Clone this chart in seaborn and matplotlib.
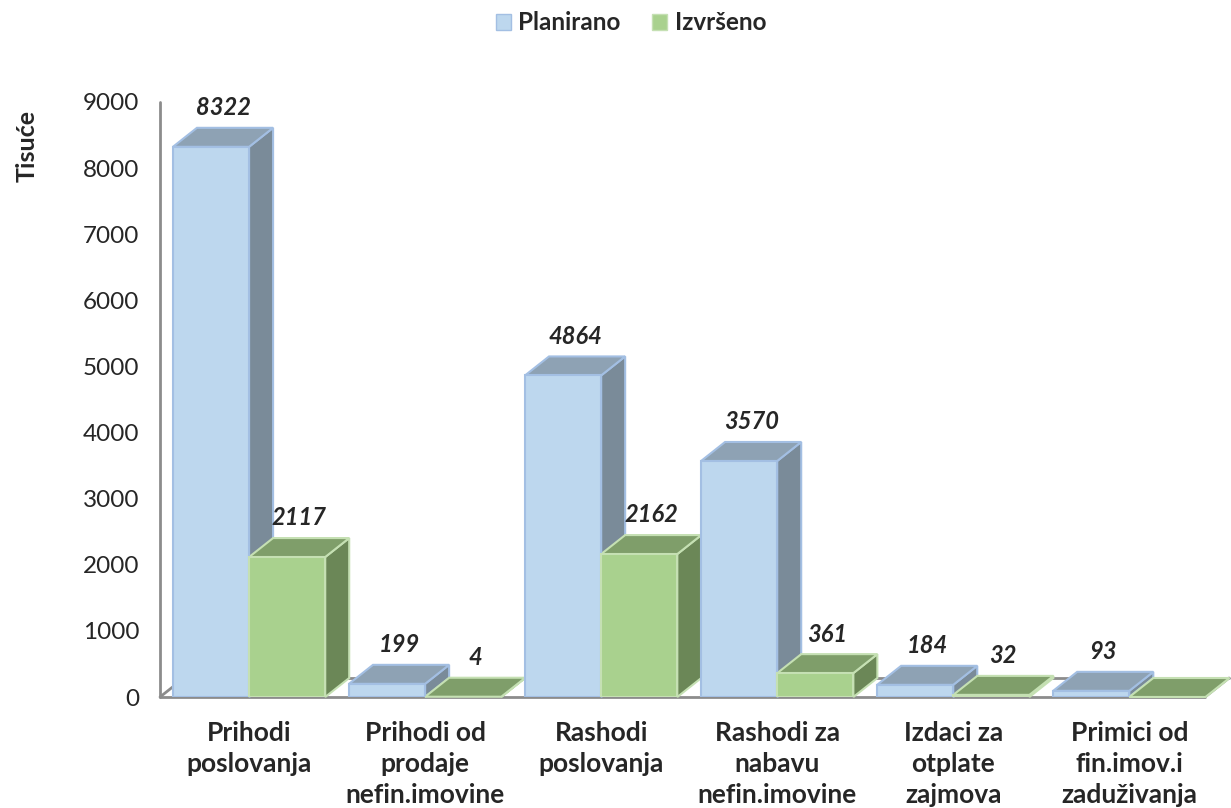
import pandas as pd
import matplotlib.pyplot as plt
from matplotlib.patches import Polygon
import seaborn as sns

# podaci (tisuće)
categories = [
    "Prihodi\nposlovanja",
    "Prihodi od\nprodaje\nnefin.imovine",
    "Rashodi\nposlovanja",
    "Rashodi za\nnabavu\nnefin.imovine",
    "Izdaci za\notplate\nzajmova",
    "Primici od\nfin.imov.i\nzaduživanja",
]
planirano = [8322, 199, 4864, 3570, 184, 93]
izvrseno = [2117, 4, 2162, 361, 32, 0]
series = ["Planirano", "Izvršeno"]
y_ticks = [0, 1000, 2000, 3000, 4000, 5000, 6000, 7000, 8000, 9000]

front_col = {"Planirano": "#BDD7EE", "Izvršeno": "#A9D18E"}
edge_col = {"Planirano": "#A3BFE3", "Izvršeno": "#C5E0B3"}
top_col = {"Planirano": "#8EA2B4", "Izvršeno": "#7F9E6A"}
side_col = {"Planirano": "#7A8B99", "Izvršeno": "#6B8757"}

sns.set_style("white")
plt.rcParams['font.family'] = ['Lato', 'DejaVu Sans']

df = pd.DataFrame({
    "kategorija": categories * 2,
    "serija": [series[0]] * len(categories) + [series[1]] * len(categories),
    "iznos": planirano + izvrseno,
})

fig = plt.figure(figsize=(12.31, 8.08), dpi=100)
ax = fig.add_axes([160 / 1231, 1 - 697 / 808, (1205 - 160) / 1231, (697 - 102) / 808])

sns.barplot(data=df, x="kategorija", y="iznos", hue="serija", palette=front_col,
            width=0.865, ax=ax, legend=False, zorder=3, saturation=1)

ax.set_xlim(-0.506, 5.43)
ax.set_ylim(0, 9000)
ax.set_yticks(y_ticks)
ax.set_yticklabels([str(t) for t in y_ticks], fontsize=17.5)
ax.set_xlabel("")
ax.set_ylabel("")
ax.tick_params(axis='y', length=0, pad=15)
ax.tick_params(axis='x', length=0, pad=17)
for lbl in ax.get_xticklabels():
    lbl.set_fontweight('bold')
    lbl.set_fontsize(19)
    lbl.set_linespacing(1.36)
for s in ax.spines.values():
    s.set_visible(False)

# 3D dubina u jedinicama podataka
dx = 24 / 176
dy = 19 * 9000 / 595

# pod i lijeva os
x_l, x_r = ax.get_xlim()
grey = "#8C8C8C"
floor_kw = dict(color=grey, lw=2, clip_on=False, zorder=1)
ax.plot([x_l, x_l], [0, 9000], **floor_kw)
ax.plot([x_l, x_r], [0, 0], **floor_kw)
ax.plot([x_l, x_l + dx], [0, dy], **floor_kw)
ax.plot([x_l + dx, x_r + dx], [dy, dy], **floor_kw)
ax.plot([x_r, x_r + dx], [0, dy], **floor_kw)

# bočne i gornje plohe + oznake vrijednosti
n = len(categories)
for i, bar in enumerate(ax.patches[:2 * n]):
    name = series[i // n]
    bar.set_edgecolor(edge_col[name])
    bar.set_linewidth(1.5)
    x0 = bar.get_x()
    w = bar.get_width()
    h = bar.get_height()
    z = 2 if name == "Planirano" else 2.5
    top = Polygon([(x0, h), (x0 + w, h), (x0 + w + dx, h + dy), (x0 + dx, h + dy)],
                  closed=True, facecolor=top_col[name], edgecolor=edge_col[name],
                  lw=1.5, zorder=z, clip_on=False)
    side = Polygon([(x0 + w, 0), (x0 + w + dx, dy), (x0 + w + dx, h + dy), (x0 + w, h)],
                   closed=True, facecolor=side_col[name], edgecolor=edge_col[name],
                   lw=1.5, zorder=z, clip_on=False)
    ax.add_patch(side)
    ax.add_patch(top)
    if h > 0:
        ax.text(x0 + w / 2 + dx / 2, h + dy + 130, f"{int(h)}", ha='center', va='bottom',
                fontsize=17, fontweight='bold', fontstyle='italic', zorder=5)

# legenda
handles = [plt.Rectangle((0, 0), 1, 1, facecolor=front_col[s], edgecolor=edge_col[s]) for s in series]
fig.legend(handles, series, loc='center', bbox_to_anchor=(631 / 1231, 1 - 23 / 808), ncol=2,
           frameon=False, prop={'weight': 'bold', 'size': 17.5}, handlelength=0.62,
           handleheight=0.62, handletextpad=0.3, columnspacing=1.3)

fig.text(27 / 1231, 1 - 146 / 808, "Tisuće", rotation=90, ha='center', va='center',
         fontsize=18, fontweight='bold')

plt.savefig("out.png", dpi=100)
